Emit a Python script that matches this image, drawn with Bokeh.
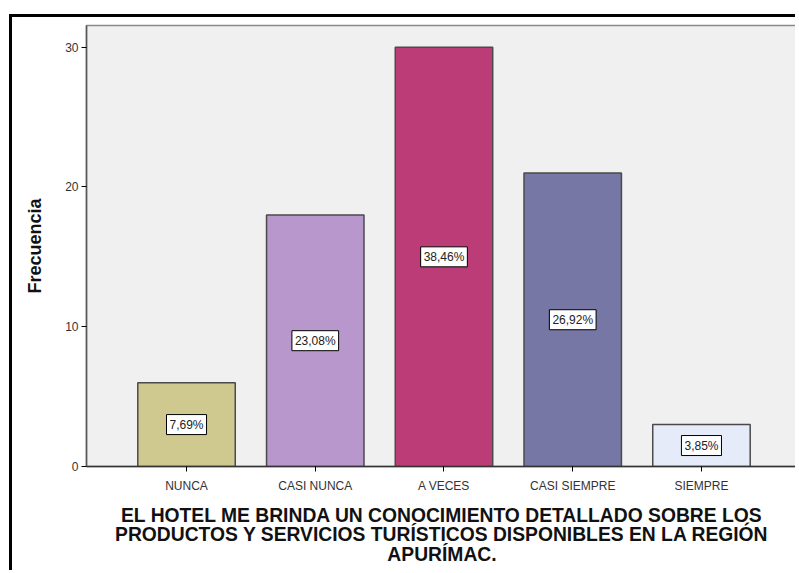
from bokeh.plotting import figure
from bokeh.models import ColumnDataSource, Range1d, FixedTicker, Label
from bokeh.embed import file_html
from bokeh.resources import INLINE

categories = ["NUNCA", "CASI NUNCA", "A VECES", "CASI SIEMPRE", "SIEMPRE"]
frecuencia = [6, 18, 30, 21, 3]
porcentajes = ["7,69%", "23,08%", "38,46%", "26,92%", "3,85%"]
bar_colors = ["#cfc98f", "#b898cc", "#bc3c78", "#7677a5", "#e6ebfa"]
y_ticks = [0, 10, 20, 30]

x_title = ("EL HOTEL ME BRINDA UN CONOCIMIENTO DETALLADO SOBRE LOS\n"
           "PRODUCTOS Y SERVICIOS TURÍSTICOS DISPONIBLES EN LA REGIÓN\n"
           "APURÍMAC.")

idx = list(range(len(categories)))
src = ColumnDataSource(dict(x=idx, top=frecuencia, color=bar_colors))

p = figure(width=786, height=556, output_backend="svg", toolbar_location=None,
           x_range=Range1d(-0.777, 4.746), y_range=Range1d(0, 31.55),
           min_border_left=74, min_border_top=8, min_border_right=1,
           min_border_bottom=107)
p.styles = {"border-top": "3px solid black", "border-left": "3px solid black",
            "margin-top": "14px", "margin-left": "9px"}

p.background_fill_color = "#f0f0f0"
p.border_fill_color = "white"
p.outline_line_color = "#8a8a8a"
p.outline_line_width = 1.5
p.grid.visible = False

p.vbar(x="x", top="top", bottom=0, width=0.757, source=src,
       fill_color="color", line_color="#4a4a4a", line_width=1.5)

for i, v, lab in zip(idx, frecuencia, porcentajes):
    p.add_layout(Label(x=i, y=v / 2, text=lab,
                       text_align="center", text_baseline="middle",
                       text_font="Liberation Sans", text_font_size="12px",
                       text_color="#222222",
                       background_fill_color="white", border_line_color="black",
                       border_line_width=1, padding=3))

p.xaxis.ticker = FixedTicker(ticks=idx)
p.xaxis.major_label_overrides = {i: c for i, c in zip(idx, categories)}
p.xaxis.major_label_text_font = "Liberation Sans"
p.xaxis.major_label_text_font_size = "12px"
p.xaxis.major_label_text_color = "#333333"
p.xaxis.major_label_standoff = 7
p.xaxis.major_tick_in = 0
p.xaxis.major_tick_out = 5
p.xaxis.minor_tick_line_color = None
p.xaxis.axis_line_color = "#333333"
p.xaxis.axis_line_width = 1.5
p.xaxis.axis_label = x_title
p.xaxis.axis_label_text_font = "Liberation Sans"
p.xaxis.axis_label_text_font_style = "bold"
p.xaxis.axis_label_text_font_size = "19.3px"
p.xaxis.axis_label_text_line_height = 0.95
p.xaxis.axis_label_text_color = "#111111"
p.xaxis.axis_label_standoff = 9

p.yaxis.ticker = FixedTicker(ticks=y_ticks)
p.yaxis.major_label_text_font = "Liberation Sans"
p.yaxis.major_label_text_font_size = "12px"
p.yaxis.major_label_text_color = "#333333"
p.yaxis.major_label_standoff = 3
p.yaxis.major_tick_in = 0
p.yaxis.major_tick_out = 5
p.yaxis.minor_tick_line_color = None
p.yaxis.axis_line_color = "#555555"
p.yaxis.axis_line_width = 1.5
p.yaxis.axis_label = "Frecuencia"
p.yaxis.axis_label_text_font = "Liberation Sans"
p.yaxis.axis_label_text_font_style = "bold"
p.yaxis.axis_label_text_font_size = "18px"
p.yaxis.axis_label_text_color = "#111111"
p.yaxis.axis_label_standoff = 17

open("out.html", "w").write(file_html(p, INLINE))
